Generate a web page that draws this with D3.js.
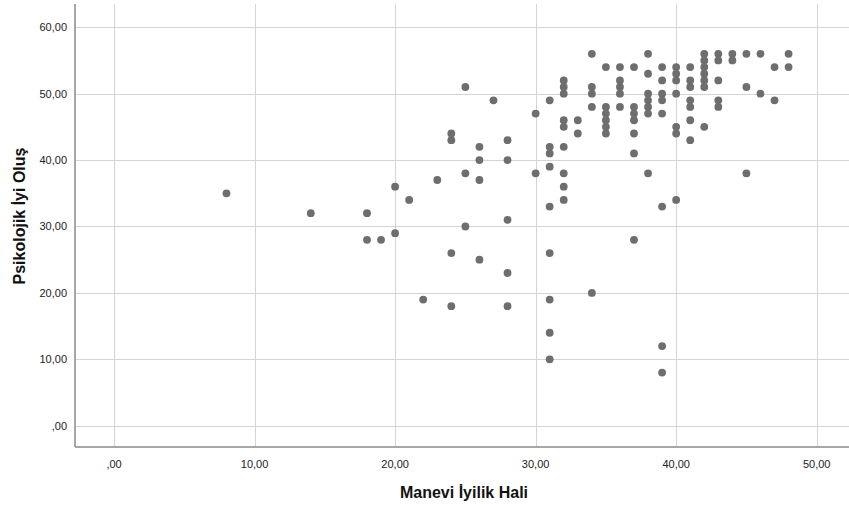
<!DOCTYPE html>
<html lang="tr">
  <head>
    <meta charset="utf-8">
    <title>Manevi İyilik Hali - Psikolojik İyi Oluş</title>
    <style>
      body { margin: 0; background: #fff; }
      svg { display: block; font-family: "Liberation Sans", Arial, sans-serif; }
      .grid line { stroke: #d4d4d4; stroke-width: 1px; }
      .axis-line { stroke: #8a8a8a; stroke-width: 1.5px; }
      .tick-label { font-size: 11px; fill: #222; }
      .title { font-size: 16px; font-weight: bold; fill: #111; }
      .dot { fill: #6e6e6e; }
    </style>
  </head>
  <body>
    <svg id="chart"></svg>
    <script src="https://cdn.jsdelivr.net/npm/d3@7"></script>
    <script>
      // Manevi İyilik Hali (x) and Psikolojik İyi Oluş (y), one pair per respondent
      var maneviX = [
        8, 14, 18, 18, 19, 20, 20, 21, 22, 23,
        24, 24, 24, 24, 25, 25, 25, 26, 26, 26, 26, 27,
        28, 28, 28, 28, 28, 30, 30,
        31, 31, 31, 31, 31, 31, 31, 31, 31,
        32, 32, 32, 32, 32, 32, 32, 32, 32,
        33, 33, 34, 34, 34, 34, 34,
        35, 35, 35, 35, 35, 35,
        36, 36, 36, 36, 36,
        37, 37, 37, 37, 37, 37, 37,
        38, 38, 38, 38, 38, 38, 38,
        39, 39, 39, 39, 39, 39, 39, 39,
        40, 40, 40, 40, 40, 40, 40,
        41, 41, 41, 41, 41, 41, 41,
        42, 42, 42, 42, 42, 42, 42,
        43, 43, 43, 43, 43,
        44, 44, 45, 45, 45, 46, 46, 47, 47, 48, 48
      ];
      var psikolojikY = [
        35, 32, 32, 28, 28, 36, 29, 34, 19, 37,
        44, 43, 26, 18, 51, 38, 30, 42, 40, 37, 25, 49,
        43, 40, 31, 23, 18, 47, 38,
        49, 42, 41, 39, 33, 26, 19, 14, 10,
        52, 51, 50, 46, 45, 42, 38, 36, 34,
        46, 44, 56, 51, 50, 48, 20,
        54, 48, 47, 46, 45, 44,
        54, 52, 51, 50, 48,
        54, 48, 47, 46, 44, 41, 28,
        56, 53, 50, 49, 48, 47, 38,
        54, 52, 50, 49, 47, 33, 12, 8,
        54, 53, 52, 50, 45, 44, 34,
        54, 52, 51, 49, 48, 46, 43,
        56, 55, 54, 53, 52, 51, 45,
        56, 55, 52, 49, 48,
        56, 55, 56, 51, 38, 56, 50, 54, 49, 56, 54
      ];
      var xTicks = [0, 10, 20, 30, 40, 50];
      var yTicks = [0, 10, 20, 30, 40, 50, 60];
      var xTitle = "Manevi İyilik Hali";
      var yTitle = "Psikolojik İyi Oluş";

      var width = 849, height = 506;
      var plot = {left: 75, right: 849, top: 4, bottom: 447};

      var svg = d3.select("#chart")
          .attr("width", width)
          .attr("height", height);

      var x = d3.scaleLinear()
          .domain([-2.78, 52.3])
          .range([plot.left, plot.right]);

      var y = d3.scaleLinear()
          .domain([-3.2, 63.5])
          .range([plot.bottom, plot.top]);

      // SPSS style labels: ",00", "10,00"
      function fmt(v) {
        return v === 0 ? ",00" : d3.format(".2f")(v).replace(".", ",");
      }

      var grid = svg.append("g").attr("class", "grid");

      grid.selectAll("line.gy")
          .data(yTicks)
        .enter().append("line")
          .attr("class", "gy")
          .attr("x1", plot.left)
          .attr("x2", plot.right)
          .attr("y1", function(d) { return Math.round(y(d)) + 0.5; })
          .attr("y2", function(d) { return Math.round(y(d)) + 0.5; });

      grid.selectAll("line.gx")
          .data(xTicks)
        .enter().append("line")
          .attr("class", "gx")
          .attr("y1", plot.top)
          .attr("y2", plot.bottom)
          .attr("x1", function(d) { return Math.round(x(d)) + 0.5; })
          .attr("x2", function(d) { return Math.round(x(d)) + 0.5; });

      // axis lines (left + bottom only)
      svg.append("line")
          .attr("class", "axis-line")
          .attr("x1", plot.left).attr("x2", plot.left)
          .attr("y1", plot.top).attr("y2", plot.bottom);
      svg.append("line")
          .attr("class", "axis-line")
          .attr("x1", plot.left).attr("x2", plot.right)
          .attr("y1", plot.bottom).attr("y2", plot.bottom);

      svg.selectAll("text.ytick")
          .data(yTicks)
        .enter().append("text")
          .attr("class", "tick-label ytick")
          .attr("x", 67)
          .attr("y", function(d) { return y(d) + 4; })
          .attr("text-anchor", "end")
          .text(fmt);

      svg.selectAll("text.xtick")
          .data(xTicks)
        .enter().append("text")
          .attr("class", "tick-label xtick")
          .attr("x", function(d) { return x(d); })
          .attr("y", 468)
          .attr("text-anchor", "middle")
          .text(fmt);

      svg.append("text")
          .attr("class", "title")
          .attr("x", 464)
          .attr("y", 498)
          .attr("text-anchor", "middle")
          .text(xTitle);

      svg.append("text")
          .attr("class", "title")
          .attr("transform", "translate(25,216) rotate(-90)")
          .attr("text-anchor", "middle")
          .text(yTitle);

      var points = d3.zip(maneviX, psikolojikY);

      svg.append("g")
        .selectAll("circle")
          .data(points)
        .enter().append("circle")
          .attr("class", "dot")
          .attr("cx", function(d) { return x(d[0]); })
          .attr("cy", function(d) { return y(d[1]); })
          .attr("r", 3.9);
    </script>
  </body>
</html>
